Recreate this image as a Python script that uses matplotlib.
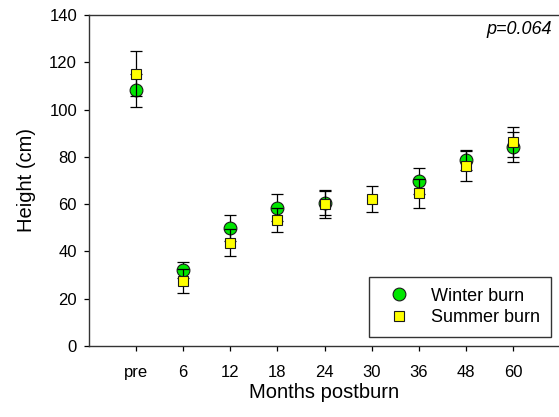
import matplotlib
matplotlib.use("Agg")
import matplotlib.pyplot as plt
import numpy as np

plt.rcParams["font.family"] = ["Liberation Sans", "DejaVu Sans"]

# data
months = ["pre", "6", "12", "18", "24", "30", "36", "48", "60"]
winter_mean = [108.2, 32.1, 50.0, 58.5, 60.4, np.nan, 69.8, 78.7, 84.3]
winter_err = [7.0, 3.4, 5.4, 5.8, 5.2, np.nan, 5.4, 4.2, 6.4]
summer_mean = [115.1, 27.5, 43.7, 53.3, 59.9, 62.2, 64.6, 76.1, 86.4]
summer_err = [9.5, 5.2, 5.8, 5.2, 5.9, 5.6, 6.2, 6.2, 6.4]


def main():
    fig = plt.figure(figsize=(5.59, 4.17), dpi=100)
    W, H = 559, 417
    ax = fig.add_axes([89 / W, 1 - 346 / H, (560 - 89) / W, (346 - 15) / H])

    x = np.arange(len(months))

    ax.errorbar(x, winter_mean, yerr=winter_err, fmt="none", ecolor="black",
                elinewidth=0.9, capsize=4, capthick=0.9, zorder=2)
    ax.plot(x, winter_mean, "o", ms=9.2, mfc="#00e600", mec="#1a1a1a", mew=0.8,
            ls="none", label="Winter burn", zorder=3)
    ax.errorbar(x, summer_mean, yerr=summer_err, fmt="none", ecolor="black",
                elinewidth=0.9, capsize=4, capthick=0.9, zorder=4)
    ax.plot(x, summer_mean, "s", ms=7.6, mfc="#ffff00", mec="#1a1a1a", mew=0.8,
            ls="none", label="Summer burn", zorder=5)

    ax.set_xlim(-1, 9)
    ax.set_ylim(0, 140)
    ax.set_xticks(x)
    ax.set_xticklabels(months)
    ax.set_yticks(np.arange(0, 141, 20))
    ax.tick_params(direction="out", length=3.6, width=0.9, labelsize=12,
                   colors="black")
    ax.tick_params(axis="x", pad=10)
    ax.tick_params(axis="y", pad=5)
    for side in ["left", "bottom", "top"]:
        ax.spines[side].set_linewidth(1.0)
        ax.spines[side].set_color("#333333")
    ax.spines["right"].set_visible(False)

    ax.set_xlabel("Months postburn", fontsize=14.5, labelpad=2)
    ax.set_ylabel("Height (cm)", fontsize=14.5, labelpad=9.5)

    ax.text(0.982, 0.955, "p=0.064", transform=ax.transAxes, ha="right",
            va="center", fontsize=13, style="italic")

    leg = ax.legend(loc="lower right", bbox_to_anchor=((551 - 89) / 471, (346 - 337) / 331),
                    fontsize=13, frameon=True, fancybox=False, edgecolor="black",
                    borderpad=0.6, handletextpad=0.7, labelspacing=0.25,
                    handlelength=2.13, borderaxespad=0)
    leg.get_frame().set_linewidth(1.0)

    fig.savefig("out.png", dpi=100)
    plt.close(fig)


if __name__ == "__main__":
    main()
